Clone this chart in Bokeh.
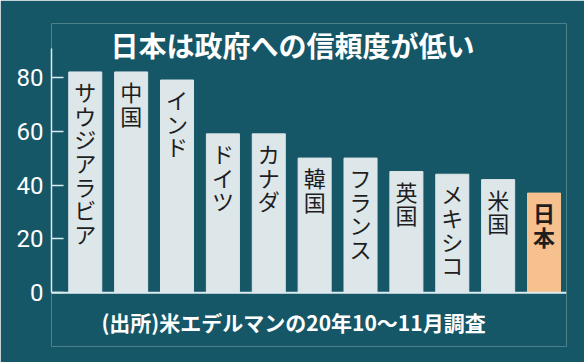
import re
from bokeh.plotting import figure
from bokeh.models import ColumnDataSource, Span, Label, FixedTicker, Range1d
from bokeh.core.properties import value
from bokeh.embed import file_html
from bokeh.resources import INLINE

# ---- data ----
countries = ["サウジアラビア", "中国", "インド", "ドイツ", "カナダ", "韓国",
             "フランス", "英国", "メキシコ", "米国", "日本"]
trust = [82, 82, 79, 59, 59, 50, 50, 45, 44, 42, 37]
y_ticks = [0, 20, 40, 60, 80]
title_text = "日本は政府への信頼度が低い"
source_text = "(出所)米エデルマンの20年10～11月調査"
unit_text = "%"

BG = "#155667"
BAR = "#dde6e9"
JP = "#f6c18e"
AXIS = "#dcebef"
JFONT = "Noto Sans CJK JP"
NFONT = "Roboto"

xs = list(range(len(countries)))
colors = [JP if c == "日本" else BAR for c in countries]
vlabels = ["\n".join(c) for c in countries]
styles = ["bold" if c == "日本" else "normal" for c in countries]

src = ColumnDataSource(dict(x=xs, top=trust, color=colors, lab=vlabels, style=styles))

p = figure(width=584, height=362, output_backend="svg", toolbar_location=None,
           x_range=Range1d(-0.736, 10.49), y_range=Range1d(-20, 100),
           min_border_left=51, min_border_right=18, min_border_top=23, min_border_bottom=16)
p.background_fill_color = BG
p.border_fill_color = BG
p.outline_line_color = None
p.grid.visible = False
p.xaxis.visible = False

p.vbar(x="x", top="top", bottom=0, width=0.72, color="color", source=src)

p.text(x="x", y="top", text="lab", source=src, text_align="center", text_baseline="top",
       y_offset=3, text_font=value(JFONT), text_font_size="22px", text_color="#1e1e1e",
       text_font_style="style", text_line_height=0.74)

yax = p.yaxis[0]
yax.ticker = FixedTicker(ticks=y_ticks)
yax.bounds = (0, 90.7)
yax.axis_line_color = AXIS
yax.axis_line_width = 1.5
yax.major_tick_line_color = AXIS
yax.major_tick_line_width = 1.5
yax.major_tick_in = 12
yax.major_tick_out = 0
yax.minor_tick_line_color = None
yax.major_label_standoff = 8
yax.major_label_text_color = "white"
yax.major_label_text_font = NFONT
yax.major_label_text_font_size = "24px"

p.add_layout(Span(location=0, dimension="width", line_color=AXIS, line_width=2))

p.add_layout(Label(x=4.52, y=92, text=title_text, text_align="center", text_baseline="middle",
                   text_font=JFONT, text_font_size="28px", text_font_style="bold",
                   text_color="white"))
p.add_layout(Label(x=4.54, y=-11, text=source_text, text_align="center", text_baseline="middle",
                   text_font=JFONT, text_font_size="21px", text_font_style="bold",
                   text_color="white"))
p.add_layout(Label(x=-1.15, y=70.5, text=unit_text, text_align="center", text_baseline="middle",
                   text_font=NFONT, text_font_size="24px",
                   text_color="white"))

html = file_html(p, INLINE)
html = re.sub(r"<body([^>]*)>", r'<body\1 style="background-color:%s">' % BG, html, count=1)
open("out.html", "w").write(html)
